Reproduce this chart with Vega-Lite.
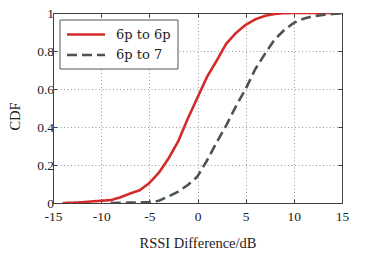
{
  "$schema": "https://vega.github.io/schema/vega-lite/v6.json",
  "width": 289,
  "height": 190,
  "autosize": "none",
  "padding": {"left": 53, "top": 13, "right": 29, "bottom": 57},
  "background": "white",
  "config": {"view": {"stroke": "#404040", "strokeWidth": 1}, "font": "Liberation Serif"},
  "data": {"values": [
    {"series": "6p to 6p", "x": -14, "cdf": 0},
    {"series": "6p to 6p", "x": -13, "cdf": 0.001},
    {"series": "6p to 6p", "x": -12, "cdf": 0.004},
    {"series": "6p to 6p", "x": -11, "cdf": 0.008},
    {"series": "6p to 6p", "x": -10, "cdf": 0.012},
    {"series": "6p to 6p", "x": -9, "cdf": 0.015},
    {"series": "6p to 6p", "x": -8, "cdf": 0.03},
    {"series": "6p to 6p", "x": -7, "cdf": 0.05},
    {"series": "6p to 6p", "x": -6, "cdf": 0.067},
    {"series": "6p to 6p", "x": -5, "cdf": 0.105},
    {"series": "6p to 6p", "x": -4, "cdf": 0.16},
    {"series": "6p to 6p", "x": -3, "cdf": 0.235},
    {"series": "6p to 6p", "x": -2, "cdf": 0.325},
    {"series": "6p to 6p", "x": -1, "cdf": 0.445},
    {"series": "6p to 6p", "x": 0, "cdf": 0.555},
    {"series": "6p to 6p", "x": 1, "cdf": 0.665},
    {"series": "6p to 6p", "x": 2, "cdf": 0.75},
    {"series": "6p to 6p", "x": 3, "cdf": 0.84},
    {"series": "6p to 6p", "x": 4, "cdf": 0.895},
    {"series": "6p to 6p", "x": 5, "cdf": 0.938},
    {"series": "6p to 6p", "x": 6, "cdf": 0.967},
    {"series": "6p to 6p", "x": 7, "cdf": 0.985},
    {"series": "6p to 6p", "x": 8, "cdf": 0.995},
    {"series": "6p to 6p", "x": 9, "cdf": 0.999},
    {"series": "6p to 6p", "x": 10, "cdf": 1},
    {"series": "6p to 6p", "x": 11, "cdf": 1},
    {"series": "6p to 6p", "x": 12, "cdf": 1},
    {"series": "6p to 6p", "x": 13, "cdf": 1},
    {"series": "6p to 6p", "x": 14, "cdf": 1},
    {"series": "6p to 6p", "x": 15, "cdf": 1},
    {"series": "6p to 7", "x": -9, "cdf": 0},
    {"series": "6p to 7", "x": -8, "cdf": 0.001},
    {"series": "6p to 7", "x": -7, "cdf": 0.002},
    {"series": "6p to 7", "x": -6, "cdf": 0.003},
    {"series": "6p to 7", "x": -5, "cdf": 0.005},
    {"series": "6p to 7", "x": -4, "cdf": 0.012},
    {"series": "6p to 7", "x": -3, "cdf": 0.035},
    {"series": "6p to 7", "x": -2, "cdf": 0.06},
    {"series": "6p to 7", "x": -1, "cdf": 0.095},
    {"series": "6p to 7", "x": 0, "cdf": 0.14},
    {"series": "6p to 7", "x": 1, "cdf": 0.225},
    {"series": "6p to 7", "x": 2, "cdf": 0.32},
    {"series": "6p to 7", "x": 3, "cdf": 0.41},
    {"series": "6p to 7", "x": 4, "cdf": 0.51},
    {"series": "6p to 7", "x": 5, "cdf": 0.6},
    {"series": "6p to 7", "x": 6, "cdf": 0.705},
    {"series": "6p to 7", "x": 7, "cdf": 0.785},
    {"series": "6p to 7", "x": 8, "cdf": 0.86},
    {"series": "6p to 7", "x": 9, "cdf": 0.91},
    {"series": "6p to 7", "x": 10, "cdf": 0.948},
    {"series": "6p to 7", "x": 11, "cdf": 0.97},
    {"series": "6p to 7", "x": 12, "cdf": 0.983},
    {"series": "6p to 7", "x": 13, "cdf": 0.99},
    {"series": "6p to 7", "x": 14, "cdf": 0.995},
    {"series": "6p to 7", "x": 15, "cdf": 0.998}
  ]},
  "layer": [
    {
      "mark": {"type": "line", "strokeWidth": 2.6, "strokeCap": "butt", "clip": true},
      "encoding": {
        "x": {
          "field": "x", "type": "quantitative",
          "scale": {"domain": [-15, 15], "nice": false},
          "axis": {
            "orient": "bottom", "values": [-15, -10, -5, 0, 5, 10, 15],
            "labelExpr": "datum.value < 0 ? '-' + abs(datum.value) : '' + datum.value",
            "title": "RSSI Difference/dB", "titleFont": "Liberation Serif", "titleFontSize": 14.5, "titleFontWeight": "normal", "titleColor": "#222",
            "titleY": 40, "titleBaseline": "middle",
            "labelFont": "Liberation Serif", "labelFontSize": 13.5, "labelColor": "#222", "labelBaseline": "top", "labelPadding": 10,
            "labelFlush": false, "labelOverlap": false,
            "tickSize": -4, "tickColor": "#404040", "domainColor": "#404040",
            "grid": true, "gridColor": "#999999", "gridDash": [1, 2.5], "gridWidth": 1
          }
        },
        "y": {
          "field": "cdf", "type": "quantitative",
          "scale": {"domain": [0, 1], "nice": false},
          "axis": {
            "orient": "left", "values": [0, 0.2, 0.4, 0.6, 0.8, 1], "format": "~g",
            "title": "CDF", "titleFont": "Liberation Serif", "titleFontSize": 14.5, "titleFontWeight": "normal", "titleColor": "#222",
            "titleX": -38, "titleY": 103, "titleAngle": -90, "titleBaseline": "middle", "titleAlign": "center",
            "labelFont": "Liberation Serif", "labelFontSize": 13.5, "labelColor": "#222", "labelPadding": 3.5,
            "labelFlush": false, "labelOverlap": false,
            "tickSize": -4, "tickColor": "#404040", "domainColor": "#404040",
            "grid": true, "gridColor": "#999999", "gridDash": [1, 2.5], "gridWidth": 1
          }
        },
        "color": {
          "field": "series", "type": "nominal",
          "scale": {"domain": ["6p to 6p", "6p to 7"], "range": ["#d42a2a", "#4a5452"]},
          "legend": {
            "title": null, "orient": "none", "legendX": 6.5, "legendY": 6.5,
            "symbolType": "M-1,0H4.07", "symbolSize": 225, "symbolStrokeWidth": 2.6,
            "labelFont": "DejaVu Serif", "labelFontSize": 13, "labelColor": "#222",
            "padding": 6, "rowPadding": 4.5, "labelOffset": 32.6,
            "strokeColor": "#555555", "fillColor": "white", "cornerRadius": 0
          }
        },
        "strokeDash": {
          "field": "series", "type": "nominal",
          "scale": {"domain": ["6p to 6p", "6p to 7"], "range": [[1, 0], [10, 5]]},
          "legend": {
            "title": null, "orient": "none", "legendX": 6.5, "legendY": 6.5,
            "symbolType": "M-1,0H4.07", "symbolSize": 225, "symbolStrokeWidth": 2.6,
            "labelFont": "DejaVu Serif", "labelFontSize": 13, "labelColor": "#222",
            "padding": 6, "rowPadding": 4.5, "labelOffset": 32.6,
            "strokeColor": "#555555", "fillColor": "white", "cornerRadius": 0
          }
        }
      }
    },
    {
      "mark": {"type": "line", "opacity": 0},
      "encoding": {
        "x": {
          "field": "x", "type": "quantitative",
          "axis": {"orient": "top", "values": [-15, -10, -5, 0, 5, 10, 15], "labels": false, "title": null, "grid": false,
                   "tickSize": -4, "tickColor": "#404040", "domainColor": "#404040"}
        },
        "y": {
          "field": "cdf", "type": "quantitative",
          "axis": {"orient": "right", "values": [0, 0.2, 0.4, 0.6, 0.8, 1], "labels": false, "title": null, "grid": false,
                   "tickSize": -4, "tickColor": "#404040", "domainColor": "#404040"}
        }
      }
    }
  ],
  "resolve": {"axis": {"x": "independent", "y": "independent"}}
}
